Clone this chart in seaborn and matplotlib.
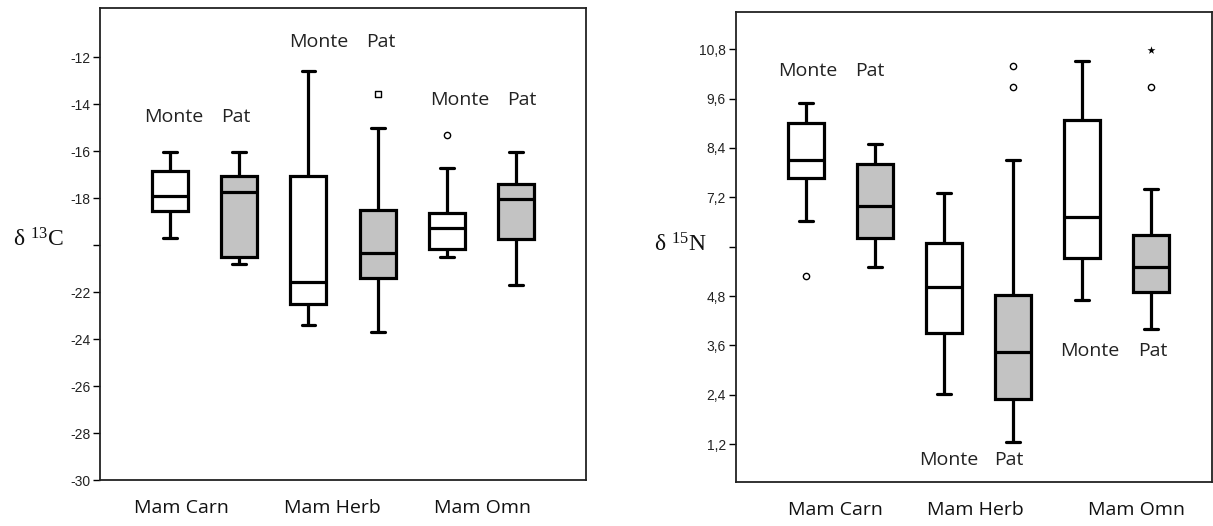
import numpy as np
import pandas as pd
import matplotlib
matplotlib.use("Agg")
import matplotlib.pyplot as plt
import seaborn as sns

# ---------------- data ----------------
box_ids = ["Carn-Monte", "Carn-Pat", "Herb-Monte", "Herb-Pat", "Omn-Monte", "Omn-Pat"]
box_groups = ["Monte", "Pat", "Monte", "Pat", "Monte", "Pat"]
categories = ["Mam Carn", "Mam Herb", "Mam Omn"]

# delta 13C five-number summaries (whisker low, Q1, median, Q3, whisker high)
c_wlo = [-19.7, -20.8, -23.4, -23.7, -20.5, -21.7]
c_q1 = [-18.55, -20.5, -22.5, -21.4, -20.15, -19.75]
c_med = [-17.9, -17.75, -21.55, -20.35, -19.25, -18.05]
c_q3 = [-16.85, -17.05, -17.05, -18.5, -18.65, -17.4]
c_whi = [-16.05, -16.05, -12.6, -15.0, -16.7, -16.05]
c_out_box = ["Herb-Pat", "Omn-Monte"]
c_out_val = [-13.55, -15.3]
c_out_marker = ["s", "o"]
c_ticks = [-30, -28, -26, -24, -22, -20, -18, -16, -14, -12]
c_ticklabels = ["-30", "-28", "-26", "-24", "-22", "", "-18", "-16", "-14", "-12"]

# delta 15N five-number summaries
n_wlo = [6.62, 5.5, 2.41, 1.25, 4.7, 4.0]
n_q1 = [7.67, 6.2, 3.91, 2.31, 5.72, 4.91]
n_med = [8.11, 6.98, 5.02, 3.44, 6.71, 5.5]
n_q3 = [9.0, 8.01, 6.09, 4.82, 9.07, 6.29]
n_whi = [9.49, 8.49, 7.3, 8.11, 10.5, 7.4]
n_out_box = ["Carn-Monte", "Herb-Pat", "Herb-Pat", "Omn-Pat", "Omn-Pat"]
n_out_val = [5.3, 10.38, 9.89, 10.78, 9.89]
n_out_marker = ["o", "o", "o", "*", "o"]
n_ticks = [1.2, 2.4, 3.6, 4.8, 6.0, 7.2, 8.4, 9.6, 10.8]
n_ticklabels = ["1,2", "2,4", "3,6", "4,8", "", "7,2", "8,4", "9,6", "10,8"]

# ---------------- style ----------------
sns.set_theme(style="white")
plt.rcParams["font.family"] = ["DejaVu Sans"]
plt.rcParams["mathtext.fontset"] = "custom"
plt.rcParams["mathtext.rm"] = "Liberation Serif"
plt.rcParams["mathtext.it"] = "Liberation Serif:italic"

GRAY = "#c3c3c3"
palette = {"Monte": "white", "Pat": GRAY}

fig = plt.figure(figsize=(12.13, 5.26), dpi=100)
axL = fig.add_axes([100 / 1213, 46 / 526, 485.5 / 1213, 472 / 526])
axR = fig.add_axes([735.7 / 1213, 44.3 / 526, 476.3 / 1213, 470 / 526])


def build_df(wlo, q1, med, q3, whi):
    rows = []
    for i, b in enumerate(box_ids):
        for v in (wlo[i], q1[i], med[i], q3[i], whi[i]):
            rows.append({"box": b, "grp": box_groups[i], "val": v})
    return pd.DataFrame(rows)


def draw_panel(ax, df, out_box, out_val, out_marker):
    sns.boxplot(data=df, x="box", y="val", hue="grp", order=box_ids,
                palette=palette, dodge=False, whis=(0, 100), width=0.52,
                linewidth=2.3, linecolor="black", showfliers=False,
                legend=False, capwidths=0.2, ax=ax)
    odf = pd.DataFrame({"box": out_box, "val": out_val, "m": out_marker})
    for m in ["o", "s", "*"]:
        sub = odf[odf["m"] == m]
        if len(sub) == 0:
            continue
        if m == "*":
            sns.stripplot(data=sub, x="box", y="val", order=box_ids, jitter=False,
                          color="black", marker="*", size=6, linewidth=0, ax=ax)
        else:
            sns.stripplot(data=sub, x="box", y="val", order=box_ids, jitter=False,
                          color="white", edgecolor="black", linewidth=1.0,
                          marker=m, size=4.5, ax=ax)


draw_panel(axL, build_df(c_wlo, c_q1, c_med, c_q3, c_whi), c_out_box, c_out_val, c_out_marker)
draw_panel(axR, build_df(n_wlo, n_q1, n_med, n_q3, n_whi), n_out_box, n_out_val, n_out_marker)

axL.set_xlim(-1.01, 6.0)
axL.set_ylim(-30, -9.9)
axR.set_xlim(-1.02, 5.88)
axR.set_ylim(0.29, 11.71)

for ax, ticks, tl in [(axL, c_ticks, c_ticklabels), (axR, n_ticks, n_ticklabels)]:
    ax.set_yticks(ticks, tl)
    ax.tick_params(axis="y", left=True, length=5, width=1, color="black",
                   pad=2, labelsize=10, labelcolor="#222222")
    for t in ax.get_yticklabels():
        t.set_fontfamily("Liberation Sans")
    ax.set_xlabel("")
    for s in ax.spines.values():
        s.set_color("#222222")
        s.set_linewidth(1.3)

# category labels
axL.set_xticks([0.16, 2.34, 4.52], categories)
axR.set_xticks([0.42, 2.45, 4.79], categories)
for ax in (axL, axR):
    ax.tick_params(axis="x", bottom=False, length=0, pad=14, labelsize=14,
                   labelcolor="#111111")
    for t in ax.get_xticklabels():
        t.set_fontfamily("Open Sans")

# y labels
axL.set_ylabel("δ $^{13}$C", rotation=0, fontsize=17, family="Liberation Serif",
               ha="center", va="center", color="#111111")
axL.yaxis.set_label_coords(-0.126, 0.508)
axR.set_ylabel("δ $^{15}$N", rotation=0, fontsize=17, family="Liberation Serif",
               ha="center", va="center", color="#111111")
axR.yaxis.set_label_coords(-0.117, 0.504)

# Monte / Pat annotations
ann_kw = dict(ha="center", va="center", fontsize=14, family="Open Sans", color="#222222")
for x, y, s in [(0.06, -14.55, "Monte"), (0.95, -14.55, "Pat"),
                (2.15, -11.36, "Monte"), (3.05, -11.36, "Pat"),
                (4.19, -13.83, "Monte"), (5.08, -13.83, "Pat")]:
    axL.text(x, y, s, **ann_kw)
for x, y, s in [(0.03, 10.27, "Monte"), (0.93, 10.27, "Pat"),
                (2.07, 0.81, "Monte"), (2.94, 0.81, "Pat"),
                (4.11, 3.46, "Monte"), (5.02, 3.46, "Pat")]:
    axR.text(x, y, s, **ann_kw)

fig.savefig("out.png", dpi=100)
